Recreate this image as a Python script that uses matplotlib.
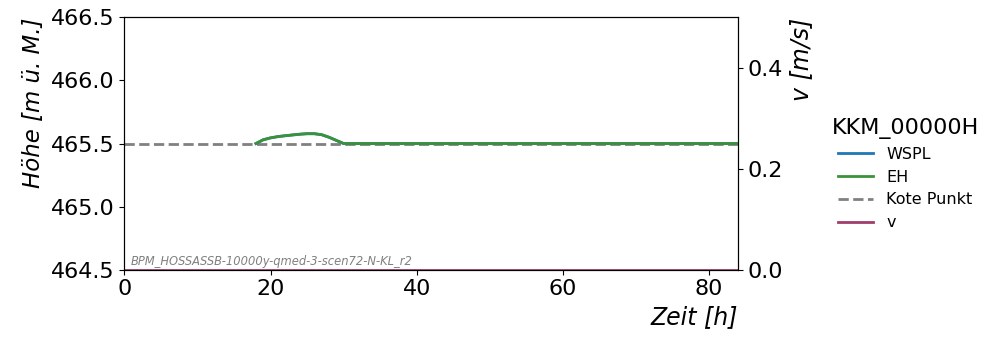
import matplotlib.pyplot as plt

# Daten
zeit_eh = [18, 19, 20, 21, 22, 23, 24, 25, 26, 27, 28, 29, 30, 84]
eh = [465.5, 465.53, 465.545, 465.555, 465.562, 465.568, 465.574, 465.578, 465.578, 465.57, 465.55, 465.525, 465.5, 465.5]
# WSPL liegt unter EH (nicht sichtbar)
zeit_wspl = zeit_eh
wspl = eh
kote_punkt = 465.5
zeit_v = [0, 84]
v = [0.0, 0.0]
titel = 'KKM_00000H'
szenario = 'BPM_HOSSASSB-10000y-qmed-3-scen72-N-KL_r2'

fig, ax = plt.subplots(figsize=(9.87, 3.48), dpi=100)
ax2 = ax.twinx()

l1, = ax.plot(zeit_wspl, wspl, color='#1f77b4', lw=2, label='WSPL', zorder=2)
l2, = ax.plot(zeit_eh, eh, color='#3a923a', lw=2, label='EH', zorder=3)
l3 = ax.axhline(kote_punkt, color='grey', ls='--', lw=2, label='Kote Punkt', zorder=1)
l4, = ax2.plot(zeit_v, v, color='#a13d6b', lw=2, label='v')

ax.set_xlim(0, 84)
ax.set_ylim(464.5, 466.5)
ax2.set_ylim(0, 0.5)
ax.set_xticks([0, 20, 40, 60, 80])
ax.set_yticks([464.5, 465.0, 465.5, 466.0, 466.5])
ax2.set_yticks([0.0, 0.2, 0.4])
ax.tick_params(labelsize=16)
ax2.tick_params(labelsize=16)

ax.set_xlabel('Zeit [h]', fontsize=17, style='italic', loc='right')
ax.set_ylabel('Höhe [m ü. M.]', fontsize=16.5, style='italic', loc='top')
ax2.set_ylabel('v [m/s]', fontsize=17, style='italic', loc='top')

ax.text(0.01, 0.02, szenario, transform=ax.transAxes, fontsize=8.3,
        style='italic', color='grey')

fig.legend(handles=[l1, l2, l3, l4], title=titel, loc='center left',
           bbox_to_anchor=(0.828, 0.5), frameon=False, fontsize=11.5,
           title_fontsize=16, handlelength=2.2)

fig.subplots_adjust(left=0.126, right=0.748, top=0.95, bottom=0.225)
fig.savefig('out.png')
